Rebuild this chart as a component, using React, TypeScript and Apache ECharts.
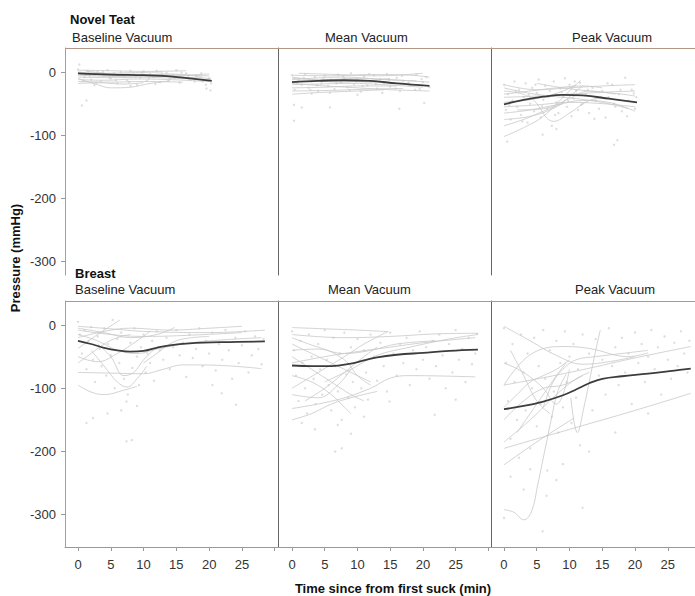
import React, { useEffect, useRef } from "react";
import * as echarts from "echarts";

// ---------- DATA ----------
const rowTitles = ["Novel Teat", "Breast"];
const panelTitles = ["Baseline Vacuum", "Mean Vacuum", "Peak Vacuum"];
const xTickValues = [0, 5, 10, 15, 20, 25, 30];
const xLabelValues = [0, 5, 10, 15, 20, 25];
const yTickValues = [-300, -200, -100, 0];
const yAxisName = "Pressure (mmHg)";
const xAxisName = "Time since from first suck (min)";

// Novel Teat – Baseline
const teatBaseMean = [[0, -2], [5, -4], [10, -5], [13, -6], [16, -9], [20.4, -14]];
const teatBaseLines = [
  [[0, 3], [5, 2], [10, 1], [16.5, 2]],
  [[0, -10], [3, -20], [5, -25], [8, -24], [11, -18], [14, -14]],
  [[0, -1], [6, -3], [12, -4], [20, -6]],
  [[0, -5], [5, -7], [10, -8], [15, -10], [20.3, -12]],
  [[0, -12], [4, -13], [9, -11], [14, -12], [20, -15]],
  [[0, -15], [5, -16], [10, -15], [16, -16]],
  [[0, 0], [4, -2], [8, -1], [13, 0]],
  [[0, -8], [6, -9], [12, -7], [18, -9], [20.3, -10]],
  [[0, -18], [3, -17], [7, -19], [10, -17]],
  [[1, 2], [6, -4], [11, -6], [16, -5], [20, -3]],
  [[0, -3], [7, -6], [14, -3], [19, -8]],
];
const teatBasePts = [
  [0, 4], [0.5, -3], [1, -8], [1.5, 2], [2, -12], [2.5, -5], [3, 1], [3.5, -15], [4, -6], [4.5, 3],
  [5, -10], [5.5, -2], [6, -18], [6.5, 0], [7, -7], [7.5, -13], [8, 2], [8.5, -4], [9, -20], [9.5, -9],
  [10, 1], [10.5, -14], [11, -3], [11.5, -8], [12, 2], [12.5, -16], [13, -6], [13.5, -1], [14, -11],
  [14.5, -5], [15, 3], [15.5, -17], [16, -9], [16.5, -2], [17, -12], [18, -6], [19, -15], [19.5, -20],
  [20, -10], [20.3, -18], [0.6, -53], [1.3, -45], [0.2, 12], [8, -22], [2.5, -21], [19.6, -26], [20.2, -29],
  [0.8, -14], [1.8, -6], [2.8, -17], [3.8, 0], [4.8, -9], [5.8, -13], [6.8, -4], [7.8, -16], [8.8, -7],
  [9.8, -1], [10.8, -10], [11.8, -19], [12.8, -3], [13.8, -14], [14.8, -8], [15.8, -1], [16.8, -6],
  [17.8, -15], [18.8, -2], [19.8, -12],
];

// Novel Teat – Mean
const teatMeanMean = [[0, -16], [4, -14], [8, -13], [12, -14], [16, -18], [21, -22]];
const teatMeanLines = [
  [[0, -5], [6, -6], [12, -4], [18, -5], [21, -8]],
  [[0, -10], [5, -12], [10, -10], [15, -12], [21, -16]],
  [[0, -15], [6, -14], [12, -16], [18, -18]],
  [[0, -20], [4, -19], [9, -18], [14, -20], [20, -24]],
  [[0, -25], [5, -24], [10, -22], [16, -22]],
  [[0, -30], [6, -29], [12, -27], [17, -26]],
  [[0, -8], [3, -12], [7, -16], [11, -14], [15, -10]],
  [[0, -18], [5, -22], [10, -25], [15, -28], [21, -30]],
  [[1, -2], [7, -4], [13, -6], [20, -2]],
  [[0, -12], [8, -8], [14, -12], [19, -14]],
  [[0, -35], [5, -32], [10, -30], [14, -28]],
];
const teatMeanPts = [
  [0, -5], [0.4, -28], [1, -12], [1.5, -20], [2, -3], [2.5, -25], [3, -15], [3.5, -8], [4, -30], [4.5, -18],
  [5, -6], [5.5, -22], [6, -12], [6.5, -27], [7, -4], [7.5, -16], [8, -10], [8.5, -24], [9, -2], [9.5, -19],
  [10, -13], [10.5, -31], [11, -7], [11.5, -21], [12, -15], [12.5, -5], [13, -26], [13.5, -11], [14, -18],
  [14.5, -3], [15, -23], [16, -9], [16.5, -30], [17, -14], [18, -20], [19, -4], [19.5, -27], [20, -16],
  [20.5, -8], [21, -24], [0.3, -52], [1.5, -56], [5.8, -56], [0.3, -77], [16.4, -58], [20.2, -49],
  [10, -36], [3, -34],
  [0.8, -17], [1.8, -9], [2.8, -28], [3.8, -21], [4.8, -11], [5.8, -33], [6.8, -18], [7.8, -7],
  [8.8, -29], [9.8, -15], [10.8, -22], [11.8, -3], [12.8, -19], [13.8, -33], [14.8, -12], [15.8, -26],
  [16.8, -6], [17.8, -17], [18.8, -28], [19.8, -11],
];

// Novel Teat – Peak
const teatPeakMean = [[0, -51], [3, -44], [6, -39], [9, -36], [12, -37], [16, -42], [20.3, -48]];
const teatPeakLines = [
  [[0, -102], [3, -88], [6, -70], [9, -40], [11.7, -13]],
  [[0, -30], [4, -40], [7.6, -78], [10, -65], [13, -45], [16, -40]],
  [[0, -20], [5, -28], [10, -25], [15, -22], [20, -20]],
  [[0, -40], [5, -38], [10, -35], [15, -32], [20, -30]],
  [[0, -55], [5, -52], [10, -48], [15, -50], [20, -55]],
  [[0, -65], [4, -60], [8, -52], [12, -45], [16, -48], [20, -62]],
  [[0, -35], [4, -30], [8, -25], [12, -22], [15, -25]],
  [[0, -75], [4, -70], [8, -55], [11, -30], [12, -22]],
  [[0, -48], [5, -42], [9, -30], [11, -20]],
  [[0, -25], [3, -32], [7, -38], [11, -42], [15, -48], [19, -58]],
  [[2, -60], [6, -58], [10, -42], [13, -30], [17, -35]],
  [[0, -85], [3, -75], [6, -62], [9, -50]],
  [[5, -18], [9, -25], [13, -30], [18, -35], [20, -38]],
];
const teatPeakPts = [
  [0, -20], [0.3, -60], [0.6, -35], [1, -75], [1.3, -45], [1.6, -15], [2, -55], [2.3, -28], [2.6, -68],
  [3, -40], [3.3, -18], [3.6, -80], [4, -50], [4.3, -25], [4.6, -62], [5, -33], [5.3, -12], [5.6, -72],
  [6, -44], [6.3, -22], [6.6, -58], [7, -30], [7.3, -85], [7.6, -15], [8, -48], [8.3, -65], [8.6, -26],
  [9, -38], [9.3, -10], [9.6, -55], [10, -20], [10.3, -70], [10.6, -42], [11, -30], [11.3, -60],
  [11.6, -17], [12, -50], [12.5, -35], [13, -65], [13.5, -25], [14, -45], [14.5, -58], [15, -30],
  [15.5, -72], [16, -40], [16.5, -20], [17, -55], [17.5, -35], [18, -62], [18.5, -9], [19, -45],
  [19.5, -28], [20, -58], [20.2, -40], [0.5, -110], [5.9, -99], [16.8, -115], [17.3, -108], [8, -90],
  [0.8, -52], [1.8, -30], [2.8, -78], [3.8, -36], [4.8, -20], [5.8, -54], [6.8, -40], [7.8, -68],
  [8.8, -32], [9.8, -46], [10.8, -15], [11.8, -52], [12.8, -28], [13.8, -74], [14.8, -40], [15.8, -18],
  [16.8, -50], [17.8, -28], [18.8, -70], [19.8, -34],
];

// Breast – Baseline
const breastBaseMean = [
  [0, -25], [2, -30], [4, -36], [6, -40], [8, -42], [10, -41], [12, -36], [14, -32], [17, -29], [22, -27], [28.5, -26],
];
const breastBaseLines = [
  [[0, -75], [5, -76], [10, -77], [13, -70], [16, -63], [22, -64], [28, -69]],
  [[0, -95], [2, -106], [4, -110], [7, -103], [9, -97]],
  [[3, -30], [5, -50], [7, -80], [8.5, -75], [10, -55], [12, -35]],
  [[2, -40], [4, -65], [6, -90], [7.5, -98], [9, -85], [10.5, -65]],
  [[0, -2], [5, -6], [10, -10], [20, -12], [28.5, -8]],
  [[0, -8], [5, -15], [10, -18], [15, -17], [25, -12]],
  [[0, -37], [3, -15], [6.4, 8]],
  [[0, -5], [4, -12], [8, -20], [12, -15], [14.7, -4]],
  [[0, -15], [3, -25], [6, -40], [9, -45], [12, -38], [16, -30], [20, -25], [28, -20]],
  [[0, -20], [4, -10], [8, -5], [14, -8], [20, -5], [25, -2]],
  [[0, -50], [3, -58], [6, -45], [9, -25], [11, -10]],
  [[10, -60], [12, -45], [14, -30], [16, -22], [20, -18]],
  [[0, -60], [2, -45], [4, -30], [6, -20], [8, -15]],
];
const breastBasePts = [
  [0, 5], [0.3, -15], [0.6, -45], [1, -8], [1.3, -70], [1.6, -25], [2, -3], [2.3, -55], [2.6, -90], [3, -18],
  [3.3, -38], [3.6, -65], [4, -5], [4.3, -80], [4.6, -30], [5, -48], [5.3, 8], [5.6, -100], [6, -22],
  [6.3, -60], [6.6, -12], [7, -85], [7.3, -42], [7.6, -110], [8, -28], [8.3, -68], [8.6, -5], [9, -50],
  [9.3, -95], [9.6, -35], [10, -15], [10.3, -75], [10.6, -45], [11, -60], [11.3, -25], [11.6, -88],
  [12, -10], [12.5, -40], [13, -55], [13.5, -20], [14, -70], [14.5, -35], [15, -8], [15.5, -48], [16, -28],
  [16.5, -82], [17, -15], [17.5, -52], [18, -38], [18.5, -5], [19, -65], [19.5, -25], [20, -45],
  [20.5, -12], [21, -72], [21.5, -30], [22, -55], [22.5, -8], [23, -40], [23.5, -85], [24, -20],
  [24.5, -60], [25, -32], [25.5, -10], [26, -75], [26.5, -48], [27, -18], [27.5, -38], [28, -62],
  [28.3, -22], [1.3, -155], [2.3, -147], [7.4, -121], [7.4, -184], [8.2, -182], [21.9, -108],
  [24.1, -126], [6.6, -135], [9, -128], [4.5, -140], [20.5, -95],
];

// Breast – Mean
const breastMeanMean = [
  [0, -64], [3, -65], [6, -65], [9, -61], [11, -56], [13, -51], [16, -47], [20, -44], [24, -41], [28.4, -39],
];
const breastMeanLines = [
  [[0, -132], [7, -118], [12, -100], [15, -84], [18, -80], [28, -82]],
  [[0, -4], [5, -6], [10, -8], [14.7, -10.5]],
  [[0, -15], [8, -20], [15, -18], [22, -14], [28.4, -13]],
  [[0, -100], [4, -75], [8, -50], [11, -30], [14.7, -10]],
  [[0, -30], [3, -45], [6, -60], [9, -75], [12, -90]],
  [[0, -50], [3, -70], [6, -90], [9, -110], [11, -120]],
  [[0, -20], [4, -35], [8, -45], [12, -40], [16, -30], [22, -25]],
  [[0, -80], [3, -90], [6, -110], [8, -130], [9, -140]],
  [[0, -150], [3, -140], [6, -125], [9, -115], [13, -105]],
  [[0, -60], [5, -50], [10, -42], [15, -35], [20, -28], [28, -20]],
  [[2, -120], [5, -100], [8, -75], [11, -50], [13, -35]],
  [[0, -40], [4, -38], [8, -55], [10, -80], [12, -95]],
  [[5, -90], [9, -70], [13, -48], [18, -35], [24, -22], [28.4, -15]],
  [[0, -110], [4, -115], [7, -95], [9, -70]],
];
const breastMeanPts = [
  [0, -10], [0.3, -40], [0.6, -80], [1, -120], [1.3, -25], [1.6, -60], [2, -100], [2.3, -140], [2.6, -15],
  [3, -50], [3.3, -85], [3.6, -125], [4, -30], [4.3, -70], [4.6, -110], [5, -8], [5.3, -55], [5.6, -95],
  [6, -135], [6.3, -20], [6.6, -65], [7, -105], [7.3, -45], [7.6, -150], [8, -12], [8.3, -78], [8.6, -115],
  [9, -35], [9.3, -90], [9.6, -130], [10, -22], [10.3, -58], [10.6, -100], [11, -40], [11.3, -75],
  [11.6, -118], [12, -15], [12.5, -50], [13, -88], [13.5, -28], [14, -65], [14.5, -105], [15, -12],
  [15.5, -45], [16, -80], [16.5, -30], [17, -60], [17.5, -20], [18, -95], [18.5, -40], [19, -70],
  [19.5, -10], [20, -55], [20.5, -35], [21, -85], [21.5, -25], [22, -65], [22.5, -15], [23, -48],
  [23.5, -100], [24, -30], [24.5, -75], [25, -8], [25.5, -55], [26, -38], [26.5, -90], [27, -20],
  [27.5, -62], [28, -45], [28.3, -14], [7, -158], [7.6, -195], [6.6, -200], [21.8, -142], [14.9, -121],
  [3.5, -165], [1.5, -155], [11, -145], [9, -172], [25, -118],
];

// Breast – Peak
const breastPeakMean = [
  [0, -133], [3, -128], [6, -121], [9, -111], [11, -102], [13, -92], [15, -85], [18, -81], [22, -77], [26, -72], [28.5, -69],
];
const breastPeakLines = [
  [[0, -292], [1.5, -296], [3, -308], [4.2, -295], [5.2, -250], [6.2, -200], [7.2, -150], [8.2, -105], [9.5, -78]],
  [[10.2, -115], [11.2, -170], [12.2, -130], [13.2, -80], [14, -40], [14.7, -8]],
  [[0, -2], [4, -25], [8, -48], [12, -62], [16, -58], [20, -50]],
  [[0, -95], [4, -47], [9, -34], [13, -37], [19, -50], [22, -44]],
  [[0, -195], [10, -165], [20, -135], [28.5, -108]],
  [[0, -221], [5, -185], [10.7, -147]],
  [[0, -95], [10, -75], [20, -52], [28.5, -34]],
  [[0, -185], [4, -150], [8, -110], [11, -85], [13, -75]],
  [[0, -60], [3, -75], [6, -100], [8, -125], [9, -110], [10, -70]],
  [[0, -150], [3, -120], [6, -100], [9, -95], [12, -80]],
  [[0, -130], [2, -110], [4, -90], [6, -80], [8, -70], [10, -55]],
  [[1, -40], [3, -80], [5, -120], [7, -140]],
  [[6, -130], [7.5, -90], [9, -70], [11, -55], [14, -50], [18, -45], [22, -40]],
  [[2, -170], [4, -140], [6, -110], [8, -80], [9.5, -60]],
];
const breastPeakPts = [
  [0, -5], [0.3, -60], [0.6, -120], [1, -180], [1.3, -30], [1.6, -90], [2, -150], [2.3, -210], [2.6, -15],
  [3, -75], [3.3, -135], [3.6, -45], [4, -195], [4.3, -100], [4.6, -20], [5, -160], [5.3, -65], [5.6, -125],
  [6, -8], [6.3, -85], [6.6, -230], [7, -40], [7.3, -145], [7.6, -105], [8, -25], [8.3, -170], [8.6, -60],
  [9, -130], [9.3, -10], [9.6, -90], [10, -50], [10.3, -155], [10.6, -30], [11, -115], [11.3, -70],
  [11.6, -190], [12, -15], [12.5, -95], [13, -45], [13.5, -135], [14, -22], [14.5, -80], [15, -55],
  [15.5, -110], [16, -5], [16.5, -65], [17, -35], [17.5, -95], [18, -20], [18.5, -75], [19, -45],
  [19.5, -125], [20, -12], [20.5, -60], [21, -30], [21.5, -90], [22, -50], [22.5, -8], [23, -70],
  [23.5, -35], [24, -110], [24.5, -18], [25, -55], [25.5, -85], [26, -28], [26.5, -65], [27, -10],
  [27.5, -45], [28, -75], [28.3, -25], [5.9, -326], [0, -305], [12, -289], [3, -260], [8, -245], [1, -240],
  [13, -200], [17, -170], [22, -140], [9, -220], [6.5, -270], [4, -228],
];

// ---------- CHART ----------
const FONT = '"Liberation Sans", Arial, Helvetica, sans-serif';

const panels = [
  { mean: teatBaseMean, lines: teatBaseLines, pts: teatBasePts },
  { mean: teatMeanMean, lines: teatMeanLines, pts: teatMeanPts },
  { mean: teatPeakMean, lines: teatPeakLines, pts: teatPeakPts },
  { mean: breastBaseMean, lines: breastBaseLines, pts: breastBasePts },
  { mean: breastMeanMean, lines: breastMeanLines, pts: breastMeanPts },
  { mean: breastPeakMean, lines: breastPeakLines, pts: breastPeakPts },
];

const colLeft = [65, 278, 491];
const colWidth = [213, 213, 204];
const colXMin = [-1.98, -2.14, -1.98];
const colXMax = [30.5, 30.4, 29.15];
const rowTop = [48, 301];
const rowHeight = [227, 246];
const rowYMin = [-321, -351];
const rowYMax = [38, 38];

function buildOption() {
  const grid: any[] = [];
  const xAxis: any[] = [];
  const yAxis: any[] = [];
  const series: any[] = [];

  panels.forEach((p, i) => {
    const row = Math.floor(i / 3);
    const col = i % 3;
    grid.push({
      left: colLeft[col],
      top: rowTop[row],
      width: colWidth[col],
      height: rowHeight[row],
      containLabel: false,
    });
    xAxis.push({
      type: "value",
      gridIndex: i,
      min: colXMin[col],
      max: colXMax[col],
      show: row === 1,
      splitLine: { show: false },
      axisLine: { show: true, onZero: false, lineStyle: { color: "#999", width: 1 } },
      axisTick: {
        show: true,
        length: 4,
        customValues: xTickValues,
        lineStyle: { color: "#999" },
      },
      axisLabel: {
        show: true,
        customValues: xLabelValues,
        color: "#333",
        fontSize: 13,
        fontFamily: FONT,
        margin: 11,
      },
    });
    yAxis.push({
      type: "value",
      gridIndex: i,
      min: rowYMin[row],
      max: rowYMax[row],
      splitLine: { show: false },
      axisLine: {
        show: true,
        onZero: false,
        lineStyle: { color: col === 0 ? "#a0a0a0" : "#666", width: 1 },
      },
      axisTick: {
        show: col === 0,
        length: 4,
        customValues: yTickValues,
        lineStyle: { color: "#999" },
      },
      axisLabel: {
        show: col === 0,
        customValues: yTickValues,
        color: "#333",
        fontSize: 13,
        fontFamily: FONT,
        margin: 9,
      },
    });

    series.push({
      type: "scatter",
      xAxisIndex: i,
      yAxisIndex: i,
      data: p.pts,
      symbol: "circle",
      symbolSize: 2.4,
      itemStyle: { color: "#d6d6d6" },
      silent: true,
      z: 1,
    });
    p.lines.forEach((ln) => {
      series.push({
        type: "line",
        xAxisIndex: i,
        yAxisIndex: i,
        data: ln,
        smooth: 0.4,
        showSymbol: false,
        lineStyle: { color: "#c8c8c8", width: 0.8 },
        silent: true,
        z: 2,
      });
    });
    series.push({
      type: "line",
      xAxisIndex: i,
      yAxisIndex: i,
      data: p.mean,
      smooth: 0.4,
      showSymbol: false,
      lineStyle: { color: "#3c3c3c", width: 1.8 },
      silent: true,
      z: 3,
    });
  });

  const titleFont = `13px ${FONT}`;
  const boldFont = `bold 13px ${FONT}`;
  const headerX = [
    [72, 325, 572],
    [75, 328, 575],
  ];
  const graphic: any[] = [];
  rowTitles.forEach((t, r) => {
    graphic.push({
      type: "text",
      x: r === 0 ? 70 : 75,
      y: r === 0 ? 19 : 273,
      style: { text: t, font: boldFont, fill: "#111", align: "left", verticalAlign: "middle" },
    });
    panelTitles.forEach((pt, c) => {
      graphic.push({
        type: "text",
        x: headerX[r][c],
        y: r === 0 ? 37 : 289,
        style: { text: pt, font: titleFont, fill: "#222", align: "left", verticalAlign: "middle" },
      });
    });
    graphic.push({
      type: "line",
      shape: { x1: 65, y1: rowTop[r] + 0.5, x2: 695, y2: rowTop[r] + 0.5 },
      style: { stroke: "#b39684", lineWidth: 1 },
      z: 10,
    });
  });
  graphic.push({
    type: "text",
    x: 15,
    y: 258,
    rotation: Math.PI / 2,
    style: { text: yAxisName, font: boldFont, fill: "#111", align: "center", verticalAlign: "middle" },
  });
  graphic.push({
    type: "text",
    x: 393,
    y: 588,
    style: { text: xAxisName, font: boldFont, fill: "#111", align: "center", verticalAlign: "middle" },
  });

  return {
    animation: false,
    backgroundColor: "#ffffff",
    grid,
    xAxis,
    yAxis,
    series,
    graphic,
  };
}

export default function App() {
  const ref = useRef<HTMLDivElement>(null);
  useEffect(() => {
    if (!ref.current) return;
    const chart = echarts.init(ref.current, undefined, { renderer: "svg" });
    chart.setOption(buildOption());
    return () => chart.dispose();
  }, []);
  return (
    <div
      ref={ref}
      style={{ position: "absolute", left: 0, top: 0, width: 695, height: 596, background: "#fff" }}
    />
  );
}
